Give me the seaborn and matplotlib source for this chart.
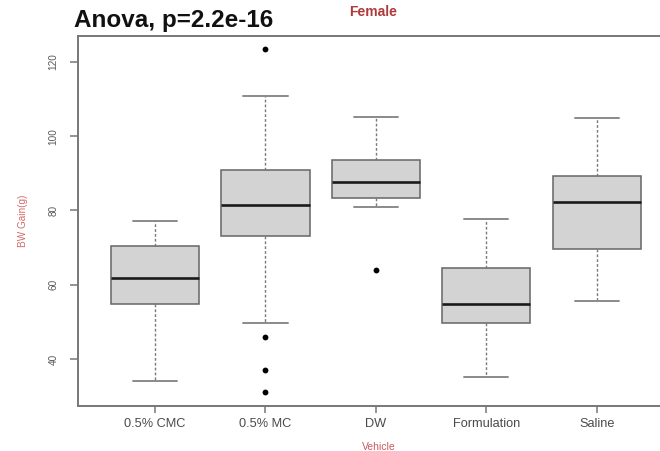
import matplotlib
matplotlib.use("Agg")
import matplotlib.pyplot as plt
import seaborn as sns

# ---- data ----
groups = ["0.5% CMC", "0.5% MC", "DW", "Formulation", "Saline"]
whisker_low = [34.1, 49.7, 80.9, 35.0, 55.7]
q1 = [54.8, 73.2, 83.5, 49.6, 69.6]
median = [61.8, 81.5, 87.8, 54.9, 82.4]
q3 = [70.3, 90.8, 93.7, 64.4, 89.4]
whisker_high = [77.3, 110.8, 105.1, 77.7, 104.8]
outlier_group = ["0.5% MC", "0.5% MC", "0.5% MC", "0.5% MC", "DW"]
outlier_value = [123.4, 45.8, 36.9, 31.2, 63.9]
y_ticks = [40, 60, 80, 100, 120]

sns.set_theme(style="white")
plt.rcParams['font.family'] = ['Liberation Sans', 'DejaVu Sans']

fig = plt.figure(figsize=(6.6, 4.51), dpi=100)
ax = fig.add_axes([77.7 / 660, 1 - 405.7 / 451, (674 - 77.7) / 660, (405.7 - 35.7) / 451])

stats = []
for i, g in enumerate(groups):
    stats.append(dict(label=g, whislo=whisker_low[i], q1=q1[i], med=median[i],
                      q3=q3[i], whishi=whisker_high[i], fliers=[]))

edge = "#6a6a6a"
ax.bxp(stats, positions=list(range(len(groups))), widths=0.8, patch_artist=True,
       showfliers=False,
       boxprops=dict(facecolor="#d3d3d3", edgecolor=edge, linewidth=1.15),
       medianprops=dict(color="#1a1a1a", linewidth=1.9),
       whiskerprops=dict(color="#7a7a7a", linewidth=1.0, linestyle=(0, (2.0, 1.5))),
       capprops=dict(color="#8a8a8a", linewidth=1.4),
       capwidths=0.4)

sns.stripplot(x=outlier_group, y=outlier_value, order=groups, jitter=False,
              color="black", size=4.2, linewidth=0, ax=ax, native_scale=False)

ax.set_xlim(-0.7, 4.7)
ax.set_ylim(27.4, 127.1)
ax.set_xticks(range(len(groups)))
ax.set_xticklabels(groups, fontsize=9.2, color="#4a4a4a")
ax.set_yticks(y_ticks)
ax.set_yticklabels([str(v) for v in y_ticks], fontsize=7.2, color="#5a5a5a",
                   rotation=90, va="center")
ax.tick_params(axis="x", length=5, width=1.1, color="#777777", pad=4, bottom=True)
ax.tick_params(axis="y", length=6, width=1.1, color="#777777", pad=8, left=True)
for s in ax.spines.values():
    s.set_color("#777777")
    s.set_linewidth(1.4)

ax.set_xlabel("")
ax.set_ylabel("")
fig.text(379 / 660, 1 - 447 / 451, "Vehicle", fontsize=7.5, color="#c85a5a",
         ha="center", va="center")
fig.text(23.3 / 660, 1 - 221 / 451, "BW Gain(g)", fontsize=7.2, color="#d46a6a",
         ha="center", va="center", rotation=90)
fig.text(74 / 660, 1 - 21 / 451, "Anova, p=2.2e-16", fontsize=17.5, fontweight="bold",
         color="#111111", ha="left", va="center")
fig.text(373 / 660, 1 - 12.5 / 451, "Female", fontsize=10, fontweight="bold",
         color="#b03a3a", ha="center", va="center")

fig.savefig("out.png", dpi=100)
